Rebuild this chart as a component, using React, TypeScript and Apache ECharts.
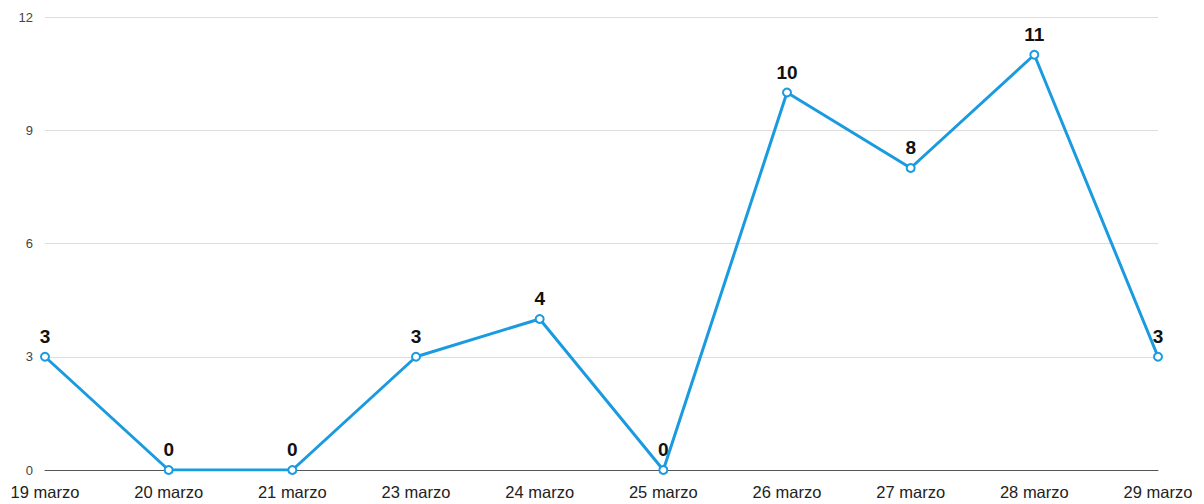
import React, { useEffect, useRef } from "react";
import * as echarts from "echarts";

const categories = ["19 marzo", "20 marzo", "21 marzo", "23 marzo", "24 marzo", "25 marzo", "26 marzo", "27 marzo", "28 marzo", "29 marzo"];
const values = [3, 0, 0, 3, 4, 0, 10, 8, 11, 3];
const yTicks = { min: 0, max: 12, interval: 3 };

export default function App() {
  const ref = useRef<HTMLDivElement>(null);
  useEffect(() => {
    if (!ref.current) return;
    const chart = echarts.init(ref.current, undefined, { renderer: "svg" });
    chart.setOption({
      animation: false,
      backgroundColor: "#ffffff",
      grid: { left: 45, right: 46, top: 17, bottom: 34, containLabel: false },
      xAxis: {
        type: "category",
        data: categories,
        boundaryGap: false,
        axisLine: { lineStyle: { color: "#555555", width: 1 } },
        axisTick: { show: false },
        axisLabel: { color: "#222222", fontSize: 16.5, fontFamily: "Liberation Sans, Arial, sans-serif", margin: 13, interval: 0 },
        splitLine: { show: false },
      },
      yAxis: {
        type: "value",
        min: yTicks.min,
        max: yTicks.max,
        interval: yTicks.interval,
        axisLine: { show: false },
        axisTick: { show: false },
        axisLabel: { color: "#444444", fontSize: 13, fontFamily: "Liberation Sans, Arial, sans-serif", margin: 12 },
        splitLine: { lineStyle: { color: "#dddddd", width: 1 } },
      },
      series: [
        {
          type: "line",
          data: values,
          lineStyle: { color: "#1a9be0", width: 3 },
          itemStyle: { color: "#1a9be0", borderColor: "#1a9be0", borderWidth: 2 },
          symbol: "emptyCircle",
          symbolSize: 8,
          label: {
            show: true,
            position: "top",
            distance: 6,
            color: "#111111",
            fontSize: 19,
            fontWeight: "bold",
            fontFamily: "Liberation Sans, Arial, sans-serif",
          },
        },
      ],
    });
    return () => chart.dispose();
  }, []);
  return <div ref={ref} style={{ position: "absolute", left: 0, top: 0, width: 1204, height: 504 }} />;
}
